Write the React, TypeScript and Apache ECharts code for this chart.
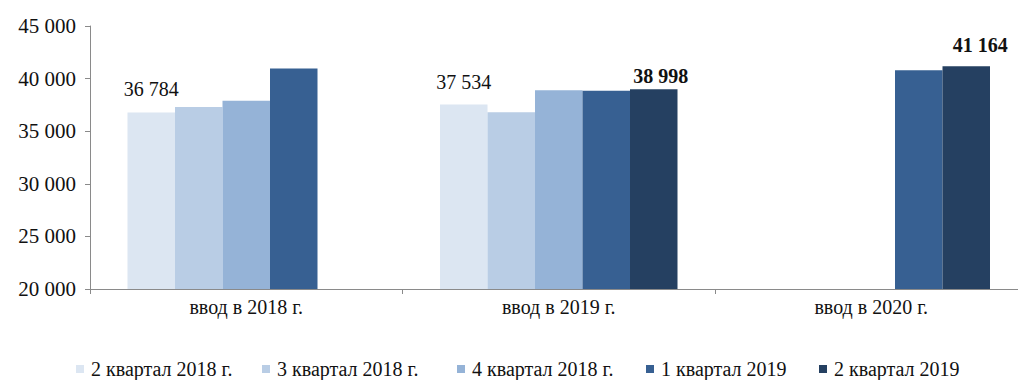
import React, { useEffect, useRef } from "react";
import * as echarts from "echarts";

const categories = ["ввод в 2018 г.", "ввод в 2019 г.", "ввод в 2020 г."];
const seriesNames = [
  "2 квартал 2018 г.",
  "3 квартал 2018 г.",
  "4 квартал 2018 г.",
  "1 квартал 2019",
  "2 квартал 2019",
];
const q2_2018 = [36784, 37534, null];
const q3_2018 = [37300, 36800, null];
const q4_2018 = [37900, 38900, null];
const q1_2019 = [40950, 38850, 40800];
const q2_2019 = [null, 38998, 41164];
const seriesValues = [q2_2018, q3_2018, q4_2018, q1_2019, q2_2019];
const colors = ["#DCE6F2", "#B9CDE5", "#95B3D7", "#376092", "#254061"];
// labelled points: [seriesIndex, categoryIndex, bold]
const labelled: [number, number, boolean][] = [
  [0, 0, false],
  [0, 1, false],
  [4, 1, true],
  [4, 2, true],
];
// label placement tweaks (distance above bar, horizontal offset), same order as labelled
const labelPlacement: [number, number][] = [
  [13, 0],
  [13, 0],
  [3, 7],
  [11, 14],
];
const yTicks = { min: 20000, max: 45000, interval: 5000 };
const legendLefts = [76, 262, 457, 646, 819];

const fmt = (v: number) =>
  String(Math.round(v)).replace(/\B(?=(\d{3})+(?!\d))/g, " ");

const FONT = "Liberation Serif";

export default function App() {
  const ref = useRef<HTMLDivElement>(null);
  useEffect(() => {
    if (!ref.current) return;
    const chart = echarts.init(ref.current, undefined, { renderer: "svg" });
    const series = seriesValues.map((vals, si) => ({
      name: seriesNames[si],
      type: "bar",
      barGap: "0%",
      barCategoryGap: "24%",
      itemStyle: { color: colors[si] },
      data: vals.map((v, ci) => {
        const li = labelled.findIndex((l) => l[0] === si && l[1] === ci);
        if (v === null) return "-";
        if (li < 0) return v;
        const bold = labelled[li][2];
        const [dist, dx] = labelPlacement[li];
        return {
          value: v,
          label: {
            show: true,
            position: "top",
            distance: dist,
            offset: [dx, 0],
            formatter: (p: any) => fmt(p.value),
            fontFamily: FONT,
            fontSize: 20,
            fontWeight: bold ? "bold" : "normal",
            color: "#111",
          },
        };
      }),
    }));
    chart.setOption({
      animation: false,
      textStyle: { fontFamily: FONT },
      grid: { left: 90, top: 26, width: 937.5, height: 263 },
      xAxis: {
        type: "category",
        data: categories,
        axisLine: { lineStyle: { color: "#8a8a8a", width: 1 } },
        axisTick: { show: true, length: 5, lineStyle: { color: "#8a8a8a" } },
        axisLabel: {
          fontFamily: FONT,
          fontSize: 20,
          color: "#111",
          margin: 8,
        },
      },
      yAxis: {
        type: "value",
        min: yTicks.min,
        max: yTicks.max,
        interval: yTicks.interval,
        splitLine: { show: false },
        axisLine: { show: true, lineStyle: { color: "#8a8a8a", width: 1 } },
        axisTick: { show: true, length: 5, lineStyle: { color: "#8a8a8a" } },
        axisLabel: {
          fontFamily: FONT,
          fontSize: 21,
          color: "#111",
          margin: 14,
          formatter: (v: number) => fmt(v),
        },
      },
      legend: seriesNames.map((n, i) => ({
        top: 359,
        left: legendLefts[i],
        padding: 0,
        icon: "rect",
        itemWidth: 8,
        itemHeight: 8,
        textStyle: { fontFamily: FONT, fontSize: 20, lineHeight: 20, color: "#111", padding: [0, 0, 0, 2] },
        data: [n],
      })),
      series,
    });
    return () => chart.dispose();
  }, []);
  return (
    <div
      style={{ position: "absolute", left: 0, top: 0, width: 1018, height: 380, overflow: "hidden", background: "#fff" }}
    >
      <div ref={ref} style={{ width: 1028, height: 380 }} />
    </div>
  );
}
